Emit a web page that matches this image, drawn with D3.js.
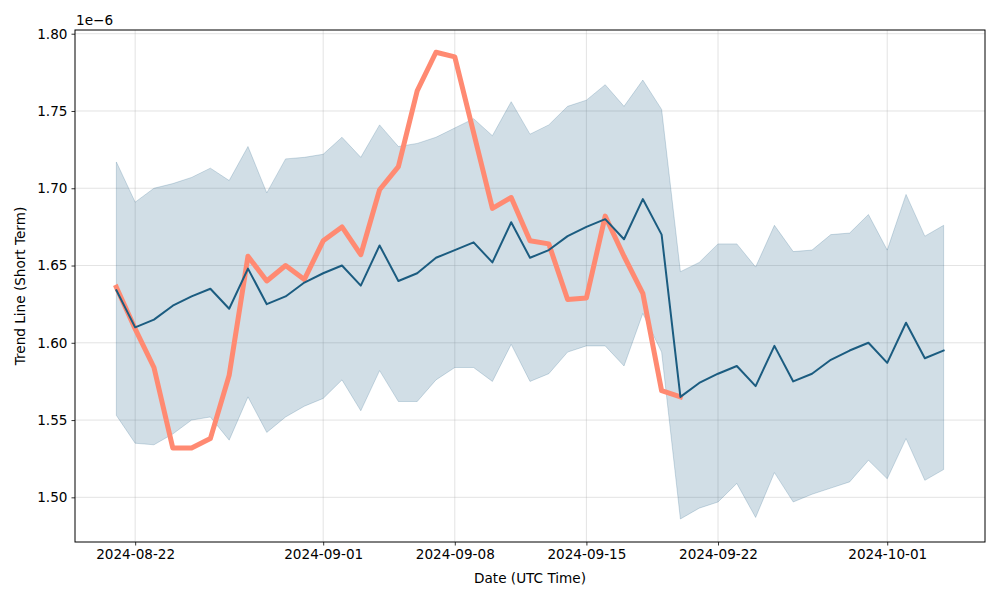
<!DOCTYPE html>
<html><head><meta charset="utf-8">
<script src="https://cdn.jsdelivr.net/npm/d3@7"></script>
<style>
html,body{margin:0;padding:0;background:#fff;}
svg{display:block;font-family:"DejaVu Sans",sans-serif;}
</style></head>
<body><svg id="c" width="1000" height="600"></svg>
<script>
const dates = ["2024-08-21","2024-08-22","2024-08-23","2024-08-24","2024-08-25","2024-08-26","2024-08-27","2024-08-28","2024-08-29","2024-08-30",
"2024-08-31","2024-09-01","2024-09-02","2024-09-03","2024-09-04","2024-09-05","2024-09-06","2024-09-07","2024-09-08","2024-09-09",
"2024-09-10","2024-09-11","2024-09-12","2024-09-13","2024-09-14","2024-09-15","2024-09-16","2024-09-17","2024-09-18","2024-09-19",
"2024-09-20","2024-09-21","2024-09-22","2024-09-23","2024-09-24","2024-09-25","2024-09-26","2024-09-27","2024-09-28","2024-09-29",
"2024-09-30","2024-10-01","2024-10-02","2024-10-03","2024-10-04"];
const meanLine = [1.634,1.610,1.615,1.624,1.630,1.635,1.622,1.648,1.625,1.630,
1.639,1.645,1.650,1.637,1.663,1.640,1.645,1.655,1.660,1.665,
1.652,1.678,1.655,1.660,1.669,1.675,1.680,1.667,1.693,1.670,
1.565,1.574,1.580,1.585,1.572,1.598,1.575,1.580,1.589,1.595,
1.600,1.587,1.613,1.590,1.595].map(v=>v*1e-6);
const upperBand = [1.717,1.691,1.700,1.703,1.707,1.713,1.705,1.727,1.697,1.719,
1.720,1.722,1.733,1.720,1.741,1.727,1.729,1.733,1.739,1.745,
1.734,1.756,1.735,1.741,1.753,1.757,1.767,1.753,1.770,1.751,
1.646,1.652,1.664,1.664,1.649,1.676,1.659,1.660,1.670,1.671,
1.683,1.660,1.696,1.669,1.676].map(v=>v*1e-6);
const lowerBand = [1.553,1.535,1.534,1.541,1.550,1.552,1.537,1.565,1.542,1.552,
1.559,1.564,1.576,1.556,1.582,1.562,1.562,1.576,1.584,1.584,
1.575,1.599,1.575,1.580,1.594,1.598,1.598,1.585,1.619,1.594,
1.486,1.493,1.497,1.509,1.487,1.516,1.497,1.502,1.506,1.510,
1.524,1.512,1.538,1.511,1.518].map(v=>v*1e-6);
const trendShort = [1.636,1.609,1.584,1.532,1.532,1.538,1.579,1.656,1.640,1.650,
1.641,1.666,1.675,1.657,1.699,1.714,1.763,1.788,1.785,1.736,
1.687,1.694,1.666,1.664,1.628,1.629,1.682,1.656,1.632,1.569,
1.565].map(v=>v*1e-6);
const xTicks = ["2024-08-22","2024-09-01","2024-09-08","2024-09-15","2024-09-22","2024-10-01"];
const yTicks = [1.50,1.55,1.60,1.65,1.70,1.75,1.80].map(v=>v*1e-6);

const parse = d3.utcParse("%Y-%m-%d");
const X = dates.map(parse);
const L = 75, R = 985, T = 30, B = 542;
const svg = d3.select("#c");
const DAY = 864e5;
const x = d3.scaleUtc()
  .domain([new Date(X[0].getTime() - 2.2*DAY), new Date(X[X.length-1].getTime() + 2.2*DAY)])
  .range([L, R]);
const y = d3.scaleLinear().domain([1.4711e-6, 1.8024e-6]).range([B, T]);
const FS = "13.6px";

const base = "#1b5c80";
// grid
const g = svg.append("g");
g.selectAll("line.gx").data(xTicks.map(parse)).join("line")
  .attr("x1", d=>x(d)).attr("x2", d=>x(d)).attr("y1", T).attr("y2", B)
  .attr("stroke", "#b0b0b0").attr("stroke-opacity", 0.45).attr("stroke-width", 0.8);
g.selectAll("line.gy").data(yTicks).join("line")
  .attr("y1", d=>y(d)).attr("y2", d=>y(d)).attr("x1", L).attr("x2", R)
  .attr("stroke", "#b0b0b0").attr("stroke-opacity", 0.45).attr("stroke-width", 0.8);

// band
const area = d3.area().x((d,i)=>x(X[i])).y0((d,i)=>y(lowerBand[i])).y1((d,i)=>y(upperBand[i]));
svg.append("path").attr("d", area(upperBand))
  .attr("fill", base).attr("fill-opacity", 0.2)
  .attr("stroke", base).attr("stroke-opacity", 0.2).attr("stroke-width", 1);

const line = d3.line().x((d,i)=>x(X[i])).y(d=>y(d));
// trend line
svg.append("path").attr("d", line(trendShort)).attr("fill","none")
  .attr("stroke", "#ff8a72").attr("stroke-width", 5).attr("stroke-linejoin","round").attr("stroke-linecap","square");
// mean line
svg.append("path").attr("d", line(meanLine)).attr("fill","none")
  .attr("stroke", base).attr("stroke-width", 2).attr("stroke-linejoin","round").attr("stroke-linecap","square");

// axes
const xAxis = d3.axisBottom(x).tickValues(xTicks.map(parse)).tickFormat(d3.utcFormat("%Y-%m-%d")).tickSize(3.5).tickPadding(4);
const yAxis = d3.axisLeft(y).tickValues(yTicks).tickFormat(d=>(d/1e-6).toFixed(2)).tickSize(3.5).tickPadding(4);
const gx = svg.append("g").attr("transform", `translate(0,${B})`).call(xAxis);
const gy = svg.append("g").attr("transform", `translate(${L},0)`).call(yAxis);
[gx, gy].forEach(a=>{
  a.select(".domain").remove();
  a.selectAll("line").attr("stroke","#000").attr("stroke-width",0.8);
  a.selectAll("text").attr("fill","#000").style("font-size", FS).style("font-family", '"DejaVu Sans",sans-serif');
});
// frame
svg.append("rect").attr("x", L).attr("y", T).attr("width", R-L).attr("height", B-T)
  .attr("fill","none").attr("stroke","#000").attr("stroke-width",1);

// labels
svg.append("text").attr("x", 76).attr("y", 25).text("1e\u22126").style("font-size", FS).attr("fill","#000");
svg.append("text").attr("x", (L+R)/2).attr("y", 583).attr("text-anchor","middle").text("Date (UTC Time)").style("font-size", FS);
svg.append("text").attr("transform", `translate(25,${(T+B)/2}) rotate(-90)`).attr("text-anchor","middle")
  .text("Trend Line (Short Term)").style("font-size", FS);
</script></body></html>
